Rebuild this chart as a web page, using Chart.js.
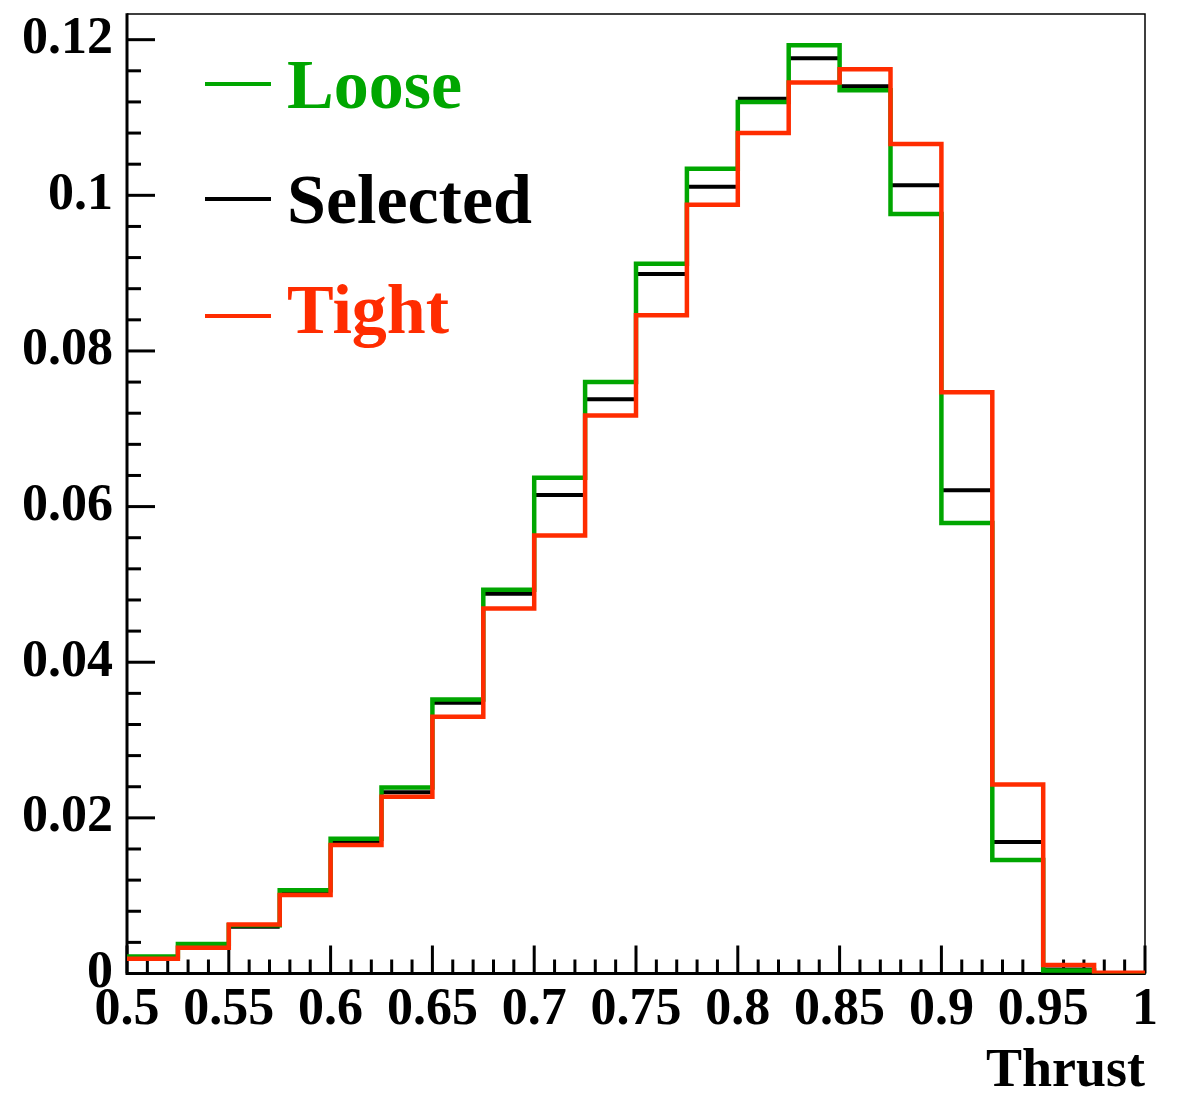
<!DOCTYPE html>
<html>
<head>
<meta charset="utf-8">
<script src="https://cdn.jsdelivr.net/npm/chart.js@4.4.0/dist/chart.umd.min.js"></script>
<style>
    html, body { margin: 0; padding: 0; background: #ffffff; }
    #thrustChart { display: block; }
</style>
</head>
<body>
<canvas id="thrustChart" width="1183" height="1094"></canvas>
<script>
// Thrust distribution, normalised, for the three event selections
var thrustEdges = [0.5, 0.525, 0.55, 0.575, 0.6, 0.625, 0.65, 0.675, 0.7, 0.725, 0.75,
                   0.775, 0.8, 0.825, 0.85, 0.875, 0.9, 0.925, 0.95, 0.975, 1.0];

var looseValues    = [0.0022, 0.0038, 0.0062, 0.0107, 0.0173, 0.0239, 0.0352, 0.0493, 0.0637, 0.0760,
                      0.0912, 0.1034, 0.1120, 0.1193, 0.1135, 0.0976, 0.0579, 0.0146, 0.0004, 0.0000];
var selectedValues = [0.0021, 0.0036, 0.0060, 0.0104, 0.0170, 0.0233, 0.0348, 0.0488, 0.0615, 0.0738,
                      0.0899, 0.1011, 0.1124, 0.1176, 0.1140, 0.1013, 0.0621, 0.0169, 0.0005, 0.0000];
var tightValues    = [0.0019, 0.0033, 0.0063, 0.0101, 0.0165, 0.0227, 0.0330, 0.0469, 0.0563, 0.0717,
                      0.0846, 0.0988, 0.1080, 0.1145, 0.1162, 0.1066, 0.0747, 0.0243, 0.0011, 0.0001];

var xTickValues = [0.5, 0.55, 0.6, 0.65, 0.7, 0.75, 0.8, 0.85, 0.9, 0.95, 1.0];
var xTickLabels = ['0.5', '0.55', '0.6', '0.65', '0.7', '0.75', '0.8', '0.85', '0.9', '0.95', '1'];
var yTickValues = [0, 0.02, 0.04, 0.06, 0.08, 0.1, 0.12];
var yTickLabels = ['0', '0.02', '0.04', '0.06', '0.08', '0.1', '0.12'];

var GREEN = '#00a600';
var RED = '#ff2c00';
var BLACK = '#000000';
var SERIF = '"Liberation Serif", "Times New Roman", Times, serif';

// step outline: one point per lower bin edge, plus the last upper edge
function stepPoints(values) {
    var pts = [];
    for (var i = 0; i < values.length; i++) {
        pts.push({ x: thrustEdges[i], y: values[i] });
    }
    pts.push({ x: thrustEdges[values.length], y: values[values.length - 1] });
    return pts;
}

// flat bars only, each bin is its own segment (null breaks the line)
function flatPoints(values) {
    var pts = [];
    for (var i = 0; i < values.length; i++) {
        pts.push({ x: thrustEdges[i], y: values[i] });
        pts.push({ x: thrustEdges[i + 1], y: values[i] });
        pts.push({ x: thrustEdges[i + 1], y: null });
    }
    return pts;
}

//-------------
//- FRAME + INWARD TICKS -
//-------------
var frameTicks = {
    id: 'frameTicks',
    beforeDatasetsDraw: function (chart) {
        var ctx = chart.ctx;
        var a = chart.chartArea;
        var xs = chart.scales.x;
        var ys = chart.scales.y;
        ctx.save();
        ctx.strokeStyle = '#000';
        ctx.lineCap = 'butt';

        // thin top and right side
        ctx.lineWidth = 1.5;
        ctx.beginPath();
        ctx.moveTo(a.left, a.top);
        ctx.lineTo(a.right, a.top);
        ctx.lineTo(a.right, a.bottom);
        ctx.stroke();

        // heavy axes
        ctx.lineWidth = 3;
        ctx.beginPath();
        ctx.moveTo(a.left, a.top - 0.75);
        ctx.lineTo(a.left, a.bottom);
        ctx.lineTo(a.right + 0.75, a.bottom);
        ctx.stroke();

        // x ticks every 0.01, major every 0.05
        for (var k = 0; k <= 50; k++) {
            var px = xs.getPixelForValue(0.5 + k * 0.01);
            var len = (k % 5 === 0) ? 28 : 14;
            ctx.beginPath();
            ctx.moveTo(px, a.bottom);
            ctx.lineTo(px, a.bottom - len);
            ctx.stroke();
        }

        // y ticks every 0.004, major every 0.02
        for (var j = 0; j * 0.004 <= ys.max + 1e-9; j++) {
            var py = ys.getPixelForValue(j * 0.004);
            var ylen = (j % 5 === 0) ? 28 : 14;
            ctx.beginPath();
            ctx.moveTo(a.left, py);
            ctx.lineTo(a.left + ylen, py);
            ctx.stroke();
        }
        ctx.restore();
    }
};

//-------------
//- LEGEND INSIDE THE FRAME -
//-------------
var innerLegend = {
    id: 'innerLegend',
    afterDatasetsDraw: function (chart, args, opts) {
        var ctx = chart.ctx;
        ctx.save();
        ctx.font = 'bold 70px ' + SERIF;
        ctx.textBaseline = 'alphabetic';
        ctx.textAlign = 'left';
        opts.entries.forEach(function (e) {
            var ds = chart.data.datasets[e.index];
            ctx.strokeStyle = ds.borderColor;
            ctx.lineWidth = 4;
            ctx.beginPath();
            ctx.moveTo(205, e.lineY);
            ctx.lineTo(271, e.lineY);
            ctx.stroke();
            ctx.fillStyle = ds.borderColor;
            ctx.fillText(ds.label, 287, e.textY);
        });
        ctx.restore();
    }
};

var thrustCanvas = document.getElementById('thrustChart').getContext('2d');

new Chart(thrustCanvas, {
    type: 'scatter',
    data: {
        datasets: [
            {
                label: 'Loose',
                data: stepPoints(looseValues),
                borderColor: GREEN,
                borderWidth: 4.5,
                showLine: true,
                stepped: true,
                pointRadius: 0,
                order: 1
            },
            {
                label: 'Selected',
                data: flatPoints(selectedValues),
                borderColor: BLACK,
                borderWidth: 4,
                showLine: true,
                spanGaps: false,
                pointRadius: 0,
                order: 2
            },
            {
                label: 'Tight',
                data: stepPoints(tightValues),
                borderColor: RED,
                borderWidth: 4.5,
                showLine: true,
                stepped: true,
                pointRadius: 0,
                order: 0
            }
        ]
    },
    options: {
        responsive: false,
        animation: false,
        events: [],
        layout: { padding: { left: 0, top: 14, right: 38, bottom: 0 } },
        plugins: {
            legend: { display: false },
            tooltip: { enabled: false },
            innerLegend: {
                entries: [
                    { index: 0, lineY: 84, textY: 108 },
                    { index: 1, lineY: 199, textY: 223 },
                    { index: 2, lineY: 316, textY: 333 }
                ]
            }
        },
        scales: {
            x: {
                type: 'linear',
                min: 0.5,
                max: 1.0,
                border: { display: false },
                grid: { display: false, drawTicks: false },
                afterBuildTicks: function (s) {
                    s.ticks = xTickValues.map(function (v) { return { value: v }; });
                },
                afterFit: function (s) {
                    s.height = 1094 - 973.5;
                    s.paddingLeft = 0;
                    s.paddingRight = 0;
                },
                ticks: {
                    autoSkip: false,
                    maxRotation: 0,
                    padding: 6,
                    color: '#000',
                    font: { family: SERIF, size: 52, weight: 'bold' },
                    callback: function (v) { return xTickLabels[xTickValues.indexOf(v)]; }
                },
                title: {
                    display: true,
                    text: 'Thrust',
                    align: 'end',
                    color: '#000',
                    padding: { top: 0, bottom: 0 },
                    font: { family: SERIF, size: 54, weight: 'bold', lineHeight: 0.8 }
                }
            },
            y: {
                type: 'linear',
                min: 0,
                max: 0.1233,
                border: { display: false },
                grid: { display: false, drawTicks: false },
                afterBuildTicks: function (s) {
                    s.ticks = yTickValues.map(function (v) { return { value: v }; });
                },
                afterFit: function (s) {
                    s.width = 127;
                    s.paddingTop = 0;
                    s.paddingBottom = 0;
                },
                ticks: {
                    padding: 14,
                    color: '#000',
                    font: { family: SERIF, size: 52, weight: 'bold' },
                    callback: function (v) { return yTickLabels[yTickValues.indexOf(v)]; }
                }
            }
        }
    },
    plugins: [frameTicks, innerLegend]
});
</script>
</body>
</html>
